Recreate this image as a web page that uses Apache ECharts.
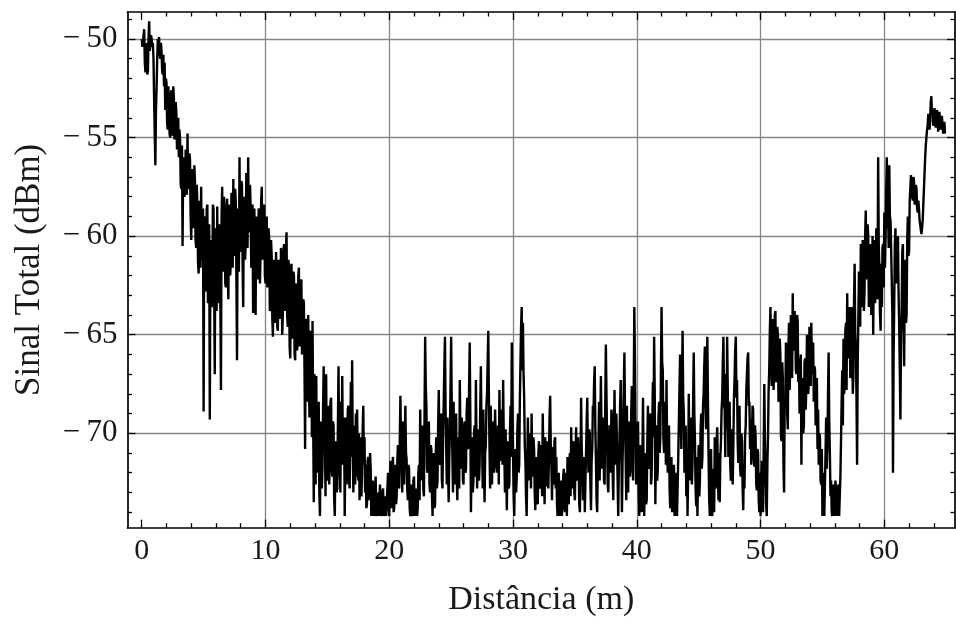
<!DOCTYPE html>
<html>
<head>
<meta charset="utf-8">
<script src="https://cdn.jsdelivr.net/npm/echarts@6/dist/echarts.min.js"></script>
<style>
  html, body { margin: 0; padding: 0; background: #ffffff; }
  #chart { width: 956px; height: 622px; }
</style>
</head>
<body>
<div id="chart"></div>
<script>
// Total received signal (dBm) along the route, one sample every 0.05 m from 0 m.
// Each row below holds one metre of samples.
const sampleStep = 0.05;

const signal00to10 = [
  -50.0, -50.4, -50.3, -49.8, -49.5, -51.2, -51.7, -50.2, -50.2, -51.8, -51.6, -50.0, -49.1, -50.6, -50.3, -49.8, -50.0, -50.4, -50.2, -51.0,
  -53.0, -54.8, -56.4, -53.6, -52.5, -51.0, -50.0, -50.6, -49.9, -50.8, -51.0, -50.2, -50.6, -51.6, -51.8, -50.8, -52.4, -51.2, -53.6, -52.0,
  -52.2, -54.2, -54.6, -52.4, -52.5, -54.8, -55.0, -52.8, -52.6, -54.9, -54.2, -52.4, -53.0, -55.1, -55.2, -53.2, -53.8, -55.6, -55.4, -54.0,
  -56.0, -54.6, -55.1, -57.4, -57.6, -55.4, -60.5, -56.0, -56.2, -58.0, -57.8, -55.6, -55.9, -57.9, -54.8, -57.6, -57.4, -55.8, -56.1, -59.0,
  -60.2, -56.8, -56.6, -59.6, -58.8, -56.4, -57.2, -60.2, -60.6, -57.4, -58.6, -61.4, -61.9, -58.2, -59.0, -61.6, -57.5, -61.0, -61.2, -58.6,
  -68.9, -59.0, -59.2, -62.8, -62.5, -58.6, -58.4, -63.4, -63.0, -59.4, -69.3, -60.2, -60.1, -63.6, -62.8, -58.4, -58.6, -62.4, -67.0, -59.6,
  -61.0, -63.8, -58.5, -62.6, -63.4, -59.4, -60.0, -63.0, -67.8, -59.0, -57.5, -61.4, -61.8, -58.0, -59.2, -62.4, -62.6, -58.6, -58.1, -61.8,
  -63.2, -58.6, -58.4, -62.0, -61.2, -57.8, -58.0, -61.6, -57.1, -61.0, -60.9, -57.6, -58.3, -62.2, -66.3, -58.6, -59.0, -61.8, -56.0, -60.4,
  -60.8, -57.2, -57.4, -61.4, -63.6, -58.0, -58.2, -61.2, -60.4, -56.8, -57.0, -60.6, -56.0, -59.6, -59.8, -57.4, -58.6, -61.6, -61.4, -58.4,
  -63.9, -59.2, -58.6, -62.0, -64.0, -59.0, -59.0, -62.2, -61.6, -58.6, -58.8, -62.4, -61.0, -58.2, -57.5, -61.2, -60.2, -58.8, -58.4, -62.0
];
const signal10to20 = [
  -62.4, -59.4, -59.0, -62.6, -61.6, -59.6, -60.2, -63.8, -63.4, -60.2, -61.0, -64.2, -65.1, -61.2, -61.8, -64.4, -64.0, -60.8, -62.2, -64.6,
  -64.8, -61.2, -61.4, -64.2, -63.6, -60.6, -61.0, -65.0, -64.0, -60.8, -60.4, -63.8, -63.2, -60.6, -59.8, -64.0, -64.6, -61.2, -61.6, -65.6,
  -66.2, -62.0, -61.4, -65.2, -64.8, -61.8, -62.0, -66.0, -66.3, -62.4, -62.6, -65.8, -65.4, -62.0, -61.6, -65.6, -64.4, -62.4, -62.2, -66.0,
  -65.8, -63.2, -63.4, -66.6, -70.8, -64.2, -64.6, -68.4, -67.2, -64.0, -63.9, -69.2, -68.6, -64.8, -65.4, -70.2, -64.3, -69.0, -73.5, -67.0,
  -69.8, -72.6, -67.1, -71.4, -72.0, -68.6, -68.4, -73.0, -74.2, -70.4, -69.4, -72.8, -71.8, -68.8, -66.6, -70.6, -70.2, -73.2, -67.0, -71.6,
  -72.4, -69.2, -68.6, -72.6, -71.0, -68.4, -68.2, -71.8, -72.2, -69.4, -69.6, -73.4, -74.2, -70.8, -70.4, -73.0, -72.8, -69.6, -66.6, -70.6,
  -70.6, -73.0, -68.4, -71.6, -67.1, -70.8, -71.6, -69.2, -74.2, -71.0, -69.2, -72.6, -71.4, -68.8, -68.6, -72.4, -72.8, -70.0, -67.4, -71.2,
  -66.3, -70.8, -73.0, -70.2, -69.6, -72.6, -69.0, -72.2, -68.8, -71.4, -72.4, -70.0, -73.4, -71.2, -70.2, -73.2, -72.0, -69.8, -68.6, -71.6,
  -70.2, -73.0, -71.6, -73.8, -73.6, -71.4, -71.2, -73.4, -72.8, -71.0, -71.8, -74.2, -74.2, -72.4, -72.6, -74.2, -74.0, -72.8, -72.2, -74.2,
  -74.2, -73.2, -73.0, -74.2, -74.2, -72.6, -73.4, -74.2, -74.2, -73.0, -72.8, -74.2, -74.2, -73.4, -73.2, -74.2, -74.2, -72.8, -72.0, -73.6
];
const signal20to30 = [
  -74.2, -72.4, -71.4, -73.8, -73.6, -71.8, -71.2, -74.0, -73.8, -72.0, -71.6, -73.6, -73.2, -71.4, -70.6, -72.6, -72.8, -70.4, -68.1, -70.6,
  -71.4, -73.0, -69.4, -72.2, -72.6, -70.4, -68.6, -71.0, -71.3, -72.8, -73.4, -71.6, -71.8, -73.8, -74.2, -72.6, -72.6, -74.2, -74.0, -72.4,
  -72.2, -74.2, -74.2, -72.8, -72.8, -74.2, -73.8, -72.0, -71.6, -73.4, -68.8, -71.4, -72.4, -70.2, -69.6, -72.8, -73.2, -69.0, -65.1, -67.6,
  -68.6, -71.8, -72.0, -69.8, -69.4, -72.6, -73.0, -70.6, -70.8, -73.2, -74.2, -71.6, -71.0, -73.8, -73.6, -71.2, -70.2, -72.8, -72.4, -69.6,
  -67.8, -71.0, -71.6, -69.4, -69.0, -72.4, -72.8, -70.0, -68.4, -66.6, -65.1, -68.8, -70.8, -72.6, -69.2, -71.8, -73.5, -71.2, -70.0, -67.6,
  -65.1, -68.6, -71.2, -73.0, -68.4, -71.6, -72.6, -70.0, -69.0, -72.2, -73.4, -70.8, -70.2, -72.8, -67.3, -70.4, -71.8, -69.2, -69.8, -72.4,
  -72.6, -69.8, -69.4, -72.0, -71.8, -69.0, -68.2, -70.8, -70.6, -67.6, -65.4, -69.2, -74.0, -71.4, -70.2, -73.0, -72.4, -70.0, -69.6, -72.2,
  -67.3, -70.6, -72.8, -70.4, -69.8, -72.4, -71.6, -68.8, -66.6, -69.6, -70.4, -72.8, -68.8, -71.4, -73.5, -71.0, -70.6, -68.6, -68.0, -66.4,
  -64.8, -68.2, -70.8, -72.8, -68.6, -71.2, -72.6, -70.2, -69.4, -72.0, -71.0, -68.8, -68.8, -71.6, -72.0, -69.8, -69.6, -72.6, -67.8, -70.4,
  -71.4, -68.8, -69.0, -71.6, -67.3, -70.2, -71.2, -73.0, -69.8, -72.0, -73.9, -71.4, -70.4, -72.8, -72.6, -70.0, -68.6, -71.2, -65.4, -68.4
];
const signal30to40 = [
  -71.0, -73.2, -74.2, -71.6, -70.8, -73.0, -72.2, -69.8, -69.0, -72.0, -71.6, -68.4, -66.4, -64.6, -63.6, -66.8, -64.4, -67.0, -68.2, -70.6,
  -71.4, -73.2, -74.2, -71.8, -69.2, -72.4, -72.4, -70.0, -70.4, -72.8, -69.0, -71.6, -72.2, -70.2, -70.8, -73.0, -73.9, -71.8, -71.2, -73.4,
  -73.6, -71.0, -70.4, -72.8, -72.6, -70.6, -71.0, -73.2, -69.0, -71.4, -71.8, -73.6, -70.2, -72.4, -72.7, -70.4, -70.6, -72.8, -71.4, -69.2,
  -68.1, -70.6, -71.6, -73.4, -70.7, -72.6, -72.4, -70.4, -70.2, -72.8, -71.2, -73.6, -74.2, -72.2, -72.0, -74.2, -74.2, -72.4, -72.6, -74.2,
  -74.2, -72.2, -71.8, -73.8, -74.0, -72.0, -72.4, -74.2, -71.2, -73.4, -73.6, -71.4, -71.0, -73.2, -69.7, -72.0, -72.8, -70.4, -70.6, -73.0,
  -73.4, -71.0, -69.7, -72.4, -72.2, -70.2, -71.0, -73.6, -74.0, -71.8, -68.2, -70.8, -71.6, -73.4, -73.2, -71.2, -74.0, -72.4, -71.0, -69.4,
  -68.2, -71.0, -72.0, -69.8, -70.0, -72.6, -73.9, -71.4, -70.8, -68.6, -69.0, -67.4, -66.6, -69.8, -71.4, -73.4, -74.0, -71.6, -70.6, -68.4,
  -72.4, -69.6, -67.1, -70.0, -71.8, -69.2, -69.4, -72.4, -72.6, -68.6, -65.5, -68.0, -70.2, -72.6, -73.0, -70.8, -69.6, -72.0, -71.2, -68.8,
  -69.2, -72.0, -73.4, -70.2, -67.8, -70.8, -71.6, -69.0, -69.0, -72.4, -74.2, -71.6, -70.4, -68.6, -67.3, -70.8, -74.0, -71.4, -69.8, -67.6,
  -65.9, -69.2, -71.2, -73.4, -68.6, -71.6, -73.0, -70.4, -69.4, -72.2, -71.8, -69.0, -67.6, -70.8, -72.4, -68.0, -63.6, -66.4, -69.8, -72.6
];
const signal40to50 = [
  -72.2, -70.0, -69.4, -72.8, -74.2, -71.2, -70.6, -73.4, -74.0, -71.6, -68.2, -71.8, -74.2, -72.0, -71.0, -73.6, -73.4, -70.4, -68.6, -71.8,
  -71.6, -69.4, -69.0, -72.6, -72.2, -69.6, -67.4, -70.2, -65.1, -68.0, -73.6, -70.8, -69.6, -72.4, -71.8, -69.2, -68.4, -71.0, -70.2, -66.8,
  -63.6, -66.4, -66.8, -70.2, -71.0, -68.4, -68.8, -71.6, -67.3, -70.6, -72.0, -69.8, -69.6, -72.8, -73.8, -71.4, -71.2, -74.0, -74.0, -72.2,
  -71.6, -74.2, -74.2, -72.4, -72.0, -74.2, -74.2, -71.2, -69.4, -67.6, -66.0, -69.0, -70.8, -67.4, -64.8, -68.2, -69.0, -72.0, -71.8, -69.6,
  -73.2, -71.0, -74.2, -71.8, -68.0, -71.4, -72.4, -69.6, -69.2, -72.6, -71.6, -68.4, -65.9, -69.0, -70.4, -72.8, -73.7, -71.2, -74.2, -72.0,
  -70.6, -73.2, -72.4, -70.0, -69.0, -71.8, -71.2, -68.6, -68.0, -66.6, -65.6, -68.8, -69.8, -67.2, -65.1, -68.4, -71.2, -73.4, -74.2, -72.0,
  -70.8, -73.6, -74.2, -71.8, -72.4, -74.0, -70.2, -72.8, -72.6, -70.4, -69.7, -72.2, -73.4, -71.0, -73.5, -71.2, -70.4, -68.8, -68.2, -66.4,
  -65.1, -68.6, -68.8, -71.2, -67.0, -69.8, -65.1, -67.8, -71.2, -69.0, -68.4, -71.6, -72.4, -70.0, -69.8, -72.6, -70.6, -68.2, -67.2, -65.8,
  -65.1, -68.2, -67.3, -70.4, -71.5, -69.0, -68.6, -71.8, -72.2, -70.0, -70.4, -72.8, -73.9, -71.6, -72.8, -70.2, -69.6, -67.8, -67.8, -66.2,
  -65.9, -68.6, -68.4, -70.8, -69.3, -71.6, -70.6, -68.6, -68.8, -71.2, -71.7, -69.6, -70.2, -72.6, -72.9, -70.8, -71.0, -73.4, -74.0, -72.0
];
const signal50to60 = [
  -74.2, -72.4, -71.4, -73.8, -74.0, -71.0, -67.5, -70.2, -71.8, -73.6, -74.2, -71.6, -70.2, -67.8, -66.8, -64.8, -63.6, -66.6, -67.6, -64.6,
  -64.2, -67.8, -66.8, -64.0, -63.8, -67.4, -67.2, -64.6, -65.0, -68.4, -68.2, -65.2, -66.0, -70.2, -70.4, -66.4, -67.2, -71.6, -73.0, -68.4,
  -68.6, -65.4, -65.4, -69.0, -69.8, -65.6, -64.4, -67.8, -66.6, -64.0, -64.8, -67.2, -62.9, -65.6, -65.8, -63.8, -64.4, -66.8, -67.0, -64.0,
  -64.3, -67.4, -66.2, -69.0, -68.6, -66.0, -71.6, -67.2, -67.8, -70.0, -69.6, -66.4, -66.2, -68.8, -67.6, -65.0, -65.0, -68.0, -67.4, -64.6,
  -64.8, -67.6, -64.4, -66.6, -67.0, -65.4, -68.4, -66.6, -66.8, -69.6, -69.3, -67.2, -70.8, -68.8, -71.6, -70.0, -70.2, -72.4, -72.6, -70.8,
  -74.2, -72.0, -72.4, -74.2, -74.2, -71.0, -69.2, -71.8, -70.6, -68.0, -65.9, -69.4, -71.0, -73.2, -72.4, -74.0, -74.2, -72.6, -72.8, -74.2,
  -74.2, -72.4, -73.0, -74.2, -74.2, -72.8, -72.6, -74.2, -74.2, -72.2, -70.4, -68.4, -66.8, -69.6, -65.2, -68.0, -67.6, -64.8, -64.4, -67.8,
  -62.9, -66.0, -66.2, -63.6, -63.8, -67.2, -66.8, -63.6, -64.6, -68.0, -67.2, -63.4, -61.4, -65.0, -65.6, -68.2, -71.6, -66.4, -64.2, -61.8,
  -62.6, -64.6, -60.4, -63.6, -63.2, -60.2, -60.8, -63.8, -62.8, -60.0, -58.7, -62.2, -61.6, -59.4, -60.0, -63.6, -63.4, -60.4, -60.6, -64.0,
  -62.4, -60.0, -65.0, -61.6, -60.2, -63.4, -62.8, -59.6, -59.8, -63.2, -56.0, -60.4, -61.8, -64.0, -64.8, -61.4, -63.6, -60.6, -60.4, -62.6
];
const signal60to65 = [
  -58.8, -61.6, -60.2, -57.8, -56.0, -59.6, -58.4, -60.6, -56.4, -59.0, -59.2, -60.6, -60.7, -64.0, -72.0, -66.0, -63.4, -60.4, -59.6, -62.4,
  -62.4, -60.2, -60.0, -62.8, -64.6, -66.8, -69.3, -65.0, -63.8, -60.8, -60.4, -64.2, -66.6, -62.6, -61.2, -64.4, -64.0, -60.2, -59.0, -61.0,
  -60.8, -58.2, -57.6, -56.9, -56.8, -58.0, -58.2, -57.0, -57.2, -58.4, -58.4, -57.4, -57.6, -58.6, -58.8, -58.2, -58.6, -59.2, -59.4, -59.7,
  -59.9, -59.6, -59.2, -58.4, -57.6, -56.8, -56.0, -55.4, -55.0, -54.6, -54.4, -53.8, -53.8, -54.6, -54.2, -53.2, -52.9, -53.8, -53.6, -54.4,
  -54.2, -53.5, -53.6, -54.5, -54.4, -53.6, -53.8, -54.7, -54.6, -53.7, -53.7, -54.6, -54.5, -53.9, -54.0, -54.8, -54.8, -54.2, -54.8
];

// Axis ticks and grid lines
const xMajorTicks = [0, 10, 20, 30, 40, 50, 60];
const xMinorTicks = [2, 4, 6, 8, 12, 14, 16, 18, 22, 24, 26, 28, 32, 34, 36, 38,
                     42, 44, 46, 48, 52, 54, 56, 58, 62, 64];
const xGridLines = [10, 20, 30, 40, 50, 60];
const yMajorTicks = [-70, -65, -60, -55, -50];
const yMinorTicks = [-74, -73, -72, -71, -69, -68, -67, -66, -64, -63, -62, -61,
                     -59, -58, -57, -56, -54, -53, -52, -51, -49];
const yGridLines = [-70, -65, -60, -55, -50];

const xTitle = 'Distância (m)';
const yTitle = 'Sinal Total (dBm)';

const signal = [].concat(signal00to10, signal10to20, signal20to30, signal30to40,
                         signal40to50, signal50to60, signal60to65);
const seriesData = signal.map((v, i) => [Math.round(i * sampleStep * 100) / 100, v]);

const SERIF = '"Liberation Serif", "Times New Roman", "DejaVu Serif", serif';
const X_RANGE = [-1.15, 65.71];
const Y_RANGE = [-74.79, -48.63];

function xAxisDef(position, ticks, tickLen, extra) {
  return Object.assign({
    type: 'value', position: position, min: X_RANGE[0], max: X_RANGE[1],
    axisLine: { show: false, onZero: false },
    axisTick: { show: true, inside: true, length: tickLen, customValues: ticks,
                lineStyle: { color: '#000', width: 1.3 } },
    axisLabel: { show: false },
    splitLine: { show: false }
  }, extra || {});
}
function yAxisDef(position, ticks, tickLen, extra) {
  return Object.assign({
    type: 'value', position: position, min: Y_RANGE[0], max: Y_RANGE[1],
    axisLine: { show: false, onZero: false },
    axisTick: { show: true, inside: true, length: tickLen, customValues: ticks,
                lineStyle: { color: '#000', width: 1.3 } },
    axisLabel: { show: false },
    splitLine: { show: false }
  }, extra || {});
}

const frameLine = { show: true, onZero: false, lineStyle: { color: '#000', width: 1.7 } };
const gridLineStyle = { show: true, lineStyle: { color: '#858585', width: 1.3 } };

const chart = echarts.init(document.getElementById('chart'), null, { renderer: 'canvas' });
chart.setOption({
  animation: false,
  backgroundColor: '#ffffff',
  textStyle: { fontFamily: SERIF },
  grid: { left: 127.5, right: 1, top: 12, bottom: 94.3, containLabel: false, outerBoundsMode: 'none' },
  xAxis: [
    xAxisDef('bottom', xMajorTicks, 8, {
      axisLine: frameLine,
      axisLabel: { show: true, customValues: xMajorTicks, margin: 8, fontSize: 30,
                   fontFamily: SERIF, color: '#1a1a1a' },
      name: xTitle, nameLocation: 'middle', nameGap: 55, nameMoveOverlap: false,
      nameTextStyle: { fontSize: 34, fontFamily: SERIF, color: '#1a1a1a' }
    }),
    xAxisDef('bottom', xMinorTicks, 4.5),
    xAxisDef('top', xMajorTicks, 8, { axisLine: frameLine }),
    xAxisDef('top', xMinorTicks, 4.5),
    xAxisDef('bottom', xGridLines, 0, {
      axisTick: { show: false, customValues: xGridLines },
      splitLine: gridLineStyle
    })
  ],
  yAxis: [
    yAxisDef('left', yMajorTicks, 8, {
      axisLine: frameLine,
      axisLabel: { show: true, customValues: yMajorTicks, margin: 10, fontSize: 31,
                   fontFamily: SERIF, color: '#1a1a1a',
                   formatter: v => '\u2212\u2009' + Math.abs(v) },
      name: yTitle, nameLocation: 'middle', nameGap: 80, nameMoveOverlap: false,
      nameTextStyle: { fontSize: 35, fontFamily: SERIF, color: '#1a1a1a' }
    }),
    yAxisDef('left', yMinorTicks, 4.5),
    yAxisDef('right', yMajorTicks, 8, { axisLine: frameLine }),
    yAxisDef('right', yMinorTicks, 4.5),
    yAxisDef('left', yGridLines, 0, {
      axisTick: { show: false, customValues: yGridLines },
      splitLine: gridLineStyle
    })
  ],
  series: [{
    type: 'line',
    xAxisIndex: 0,
    yAxisIndex: 0,
    data: seriesData,
    showSymbol: false,
    symbol: 'none',
    silent: true,
    z: 5,
    lineStyle: { color: '#000', width: 2.4 }
  }]
});
</script>
</body>
</html>
